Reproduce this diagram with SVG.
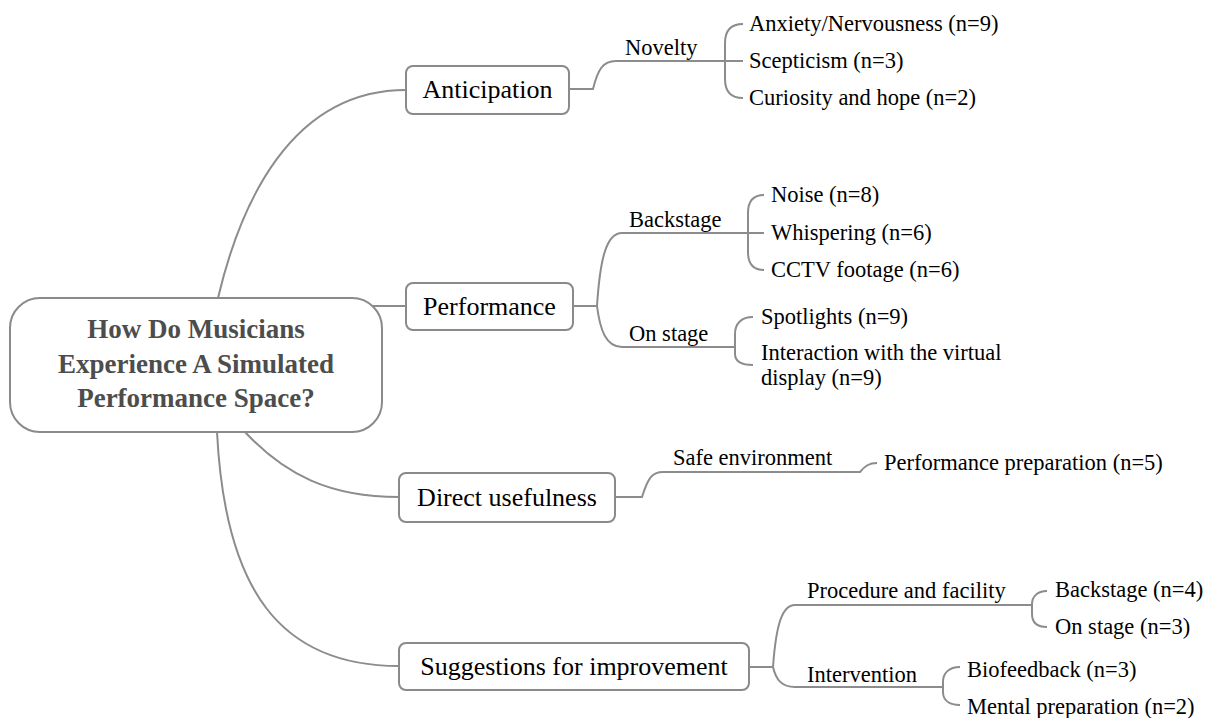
<svg xmlns="http://www.w3.org/2000/svg" width="1210" height="718" viewBox="0 0 1210 718">
<style>
.box{fill:#fff;stroke:#8a8a8a;stroke-width:2}
.ln{fill:none;stroke:#8c8c8c;stroke-width:2}
text{font-family:'Liberation Serif','Tinos','Nimbus Roman','Nimbus Roman No9 L','Times New Roman','Times','DejaVu Serif',serif}
.root{font-weight:bold;font-size:27px;fill:#4d4d4d;text-anchor:middle}
.l1{font-size:26px;fill:#000;text-anchor:middle}
.t{font-size:22.5px;fill:#000}
</style>
<rect width="1210" height="718" fill="#fff"/>
<g id="connectors">
<path class="ln" d="M218 298 C240 205 290 90 406 90"/>
<path class="ln" d="M365 306 H406"/>
<path class="ln" d="M245 432 C285 475 330 497 399 497"/>
<path class="ln" d="M217 432 C225 590 280 666 399 666"/>
<path class="ln" d="M569 89 H593 C598 69 603 61 616 61 H725"/>
<path class="ln" d="M743 24 C731 24 725 31 725 43 V79 C725 91 731 98 743 98 M725 61 H743"/>
<path class="ln" d="M573 306 H597 C600 260 606 233 622 233 H748 M597 306 C600 330 606 347 622 347 H735"/>
<path class="ln" d="M764 195 C753 195 748 202 748 213 V252 C748 263 753 270 764 270 M748 233 H764"/>
<path class="ln" d="M753 317 C741 317 735 324 735 334 V354 C735 361 741 365 753 365"/>
<path class="ln" d="M615 497 H642 C648 478 652 472 663 472 H860 C865 466 869 463 877 463"/>
<path class="ln" d="M749 667 H773 C776 625 782 605 795 605 H1032 M773 667 C776 680 782 687 795 687 H943"/>
<path class="ln" d="M1047 591 C1037 591 1032 597 1032 604 V614 C1032 622 1037 627 1047 627"/>
<path class="ln" d="M960 667 C949 667 943 673 943 682 V692 C943 700 949 705 960 705"/>
</g>
<g id="root">
<rect class="box" x="10" y="298" width="372" height="134" rx="30"/>
<text class="root" x="196" y="338">How Do Musicians</text>
<text class="root" x="196" y="373">Experience A Simulated</text>
<text class="root" x="196" y="407">Performance Space?</text>
</g>
<g id="anticipation">
<rect class="box" x="406" y="66" width="163" height="48" rx="7"/>
<text class="l1" x="487.5" y="98">Anticipation</text>
</g>
<g id="performance">
<rect class="box" x="406" y="283" width="167" height="47" rx="7"/>
<text class="l1" x="489.5" y="315">Performance</text>
</g>
<g id="direct">
<rect class="box" x="399" y="473" width="216" height="49" rx="7"/>
<text class="l1" x="507" y="506">Direct usefulness</text>
</g>
<g id="suggestions">
<rect class="box" x="399" y="643" width="350" height="47" rx="7"/>
<text class="l1" x="574" y="675">Suggestions for improvement</text>
</g>
<g id="novelty"><text class="t" x="625" y="55">Novelty</text></g>
<g id="anxiety"><text class="t" x="749" y="31">Anxiety/Nervousness (n=9)</text></g>
<g id="scepticism"><text class="t" x="749" y="68">Scepticism (n=3)</text></g>
<g id="curiosity"><text class="t" x="749" y="105">Curiosity and hope (n=2)</text></g>
<g id="backstage"><text class="t" x="629" y="227">Backstage</text></g>
<g id="noise"><text class="t" x="771" y="202">Noise (n=8)</text></g>
<g id="whispering"><text class="t" x="771" y="240">Whispering (n=6)</text></g>
<g id="cctv"><text class="t" x="771" y="277">CCTV footage (n=6)</text></g>
<g id="onstage"><text class="t" x="629" y="341">On stage</text></g>
<g id="spotlights"><text class="t" x="761" y="324">Spotlights (n=9)</text></g>
<g id="interaction"><text class="t" x="761" y="360">Interaction with the virtual</text><text class="t" x="761" y="385">display (n=9)</text></g>
<g id="safe"><text class="t" x="673" y="465">Safe environment</text></g>
<g id="prep"><text class="t" x="884" y="470">Performance preparation (n=5)</text></g>
<g id="procedure"><text class="t" x="807" y="598">Procedure and facility</text></g>
<g id="backstage2"><text class="t" x="1055" y="597">Backstage (n=4)</text></g>
<g id="onstage2"><text class="t" x="1055" y="634">On stage (n=3)</text></g>
<g id="intervention"><text class="t" x="807" y="682">Intervention</text></g>
<g id="bio"><text class="t" x="967" y="677">Biofeedback (n=3)</text></g>
<g id="mental"><text class="t" x="967" y="714">Mental preparation (n=2)</text></g>
</svg>
